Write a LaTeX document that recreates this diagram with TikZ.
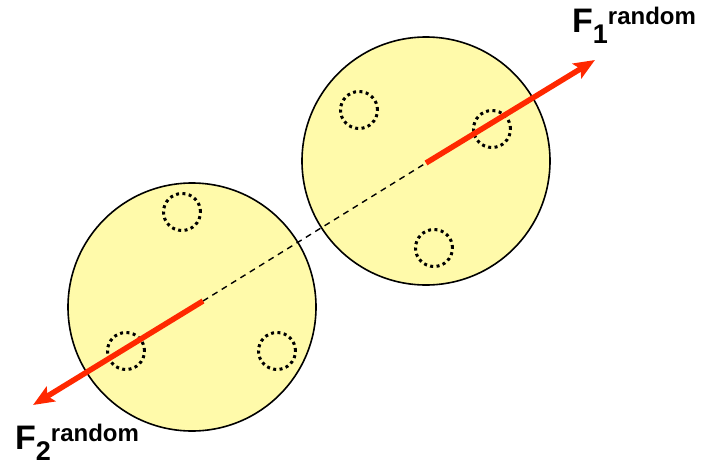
\documentclass[tikz,border=0pt]{standalone}
\usepackage{fontspec}
\setmainfont{Liberation Sans}
\usetikzlibrary{arrows.meta}
\definecolor{cellfill}{RGB}{255,250,170}
\definecolor{forcecol}{RGB}{255,40,0}

\newcommand{\forcelabel}[1]{%
  \fontsize{34}{34}\selectfont\bfseries F%
  \raisebox{-11pt}{\fontsize{27}{27}\selectfont #1}%
  \raisebox{8pt}{\fontsize{24}{24}\selectfont random}}

\begin{document}
\begin{tikzpicture}[
  x=1pt, y=-1pt,
  cell/.style={circle, draw=black, line width=1.6pt, fill=cellfill,
    minimum size=248pt, inner sep=0pt},
  site/.style={circle, draw=black, line width=3pt,
    dash pattern=on 3pt off 3.4pt, minimum size=37pt, inner sep=0pt},
  axis/.style={draw=black, line width=1.4pt, dash pattern=on 6pt off 5pt},
  force/.style={draw=forcecol, line width=5.5pt,
    -{Stealth[length=21pt, width=17pt, inset=4pt]}},
  lab/.style={inner sep=0pt, anchor=base west},
]
\useasboundingbox (0,0) rectangle (710,466);

% ---- Cells ----
\node (cellA) at (192,307) [cell] {};
\node (cellB) at (426,161) [cell] {};

% ---- Dotted sites inside the cells ----
\foreach \n/\x/\y in {a1/182/212, a2/126/351, a3/277/351,
                      b1/359/110, b2/492/129, b3/434/248}
  \node (\n) at (\x,\y) [site] {};

% ---- Axis and forces ----
\coordinate (inA) at (203,301);
\coordinate (inB) at (426,163);
\coordinate (tipA) at (33,405);
\coordinate (tipB) at (595,60);

\draw[axis] (inA) -- (inB);
\draw[force] (inB) -- (tipB);
\draw[force] (inA) -- (tipA);

% ---- Labels ----
\node (F1) at (572,32) [lab] {\forcelabel{1}};
\node (F2) at (15,449) [lab] {\forcelabel{2}};

\end{tikzpicture}
\end{document}
